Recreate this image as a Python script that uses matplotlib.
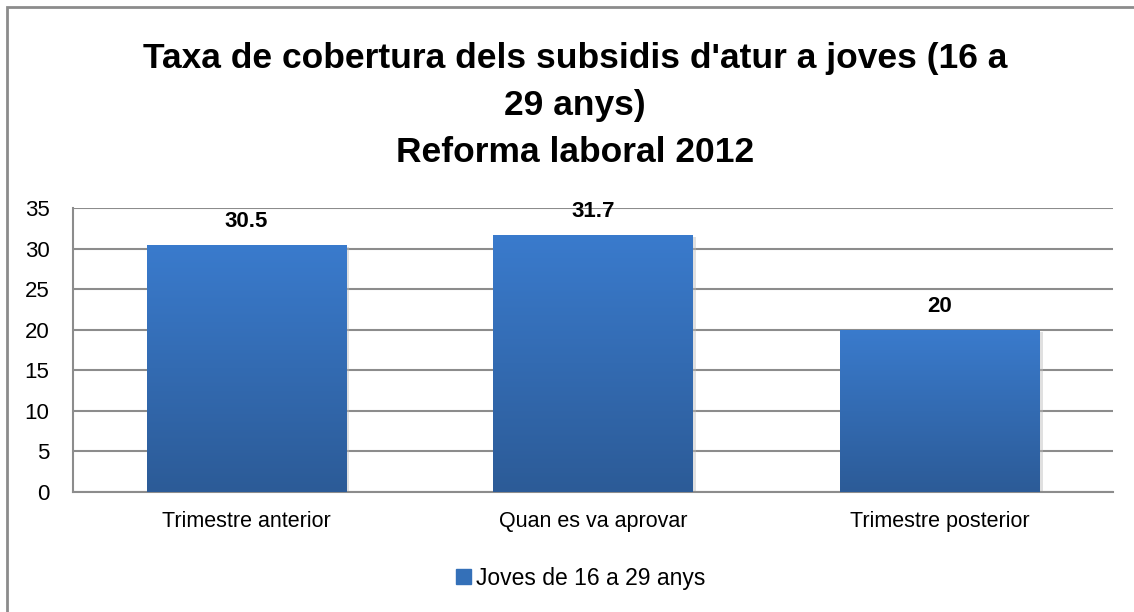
import numpy as np
import matplotlib.pyplot as plt
from matplotlib.colors import LinearSegmentedColormap
from matplotlib.patches import Rectangle

plt.rcParams['font.family'] = ['Liberation Sans Narrow', 'Liberation Sans', 'DejaVu Sans']

# Dades: taxa de cobertura (%)
categories = ['Trimestre anterior', 'Quan es va aprovar', 'Trimestre posterior']
values = [30.5, 31.7, 20]
series_name = 'Joves de 16 a 29 anys'
title = "Taxa de cobertura dels subsidis d'atur a joves (16 a\n29 anys)\nReforma laboral 2012"

fig = plt.figure(figsize=(11.34, 6.12), dpi=100)
ax = fig.add_axes([0.0644, 0.196, 0.917, 0.464])

x = np.arange(len(categories))
bars = ax.bar(x, values, width=0.575, color='#3470B8', zorder=3)

# degradat vertical a cada barra
grad = LinearSegmentedColormap.from_list('blaus', ['#2C5B97', '#3A7BCD'])
g = np.linspace(0, 1, 256).reshape(-1, 1)
for b, v in zip(bars, values):
    x0, w, h = b.get_x(), b.get_width(), b.get_height()
    # ombra suau
    ax.add_patch(Rectangle((x0 + 0.01, -0.25), w, h, color='#BBBBBB', alpha=0.45,
                           zorder=2, lw=0))
    im = ax.imshow(g, cmap=grad, origin='lower', aspect='auto',
                   extent=(x0, x0 + w, 0, h), zorder=4)
    im.set_clip_path(b)
    ax.text(x0 + w / 2, h + 1.6, f'{v:g}', ha='center', va='bottom',
            fontsize=16, fontweight='bold')

ax.set_xlim(-0.5, 2.5)
ax.set_ylim(0, 35)
ax.set_yticks(range(0, 36, 5))
ax.set_xticks(x)
ax.set_xticklabels(categories, fontsize=15.5)
ax.tick_params(axis='both', length=0)
ax.tick_params(axis='y', labelsize=16, pad=17)
ax.tick_params(axis='x', pad=14)
ax.yaxis.grid(True, color='#8C8C8C', lw=1.5, zorder=0)
for s in ['top', 'right']:
    ax.spines[s].set_visible(False)
for s in ['left', 'bottom']:
    ax.spines[s].set_color('#8C8C8C')
    ax.spines[s].set_linewidth(1.5)

fig.text(0.507, 0.932, title, ha='center', va='top', fontsize=25.5,
         fontweight='bold', linespacing=1.55)

# llegenda
handle = Rectangle((0, 0), 1, 1, color='#3470B8')
fig.legend([handle], [series_name], loc='center', bbox_to_anchor=(0.512, 0.055),
           frameon=False, fontsize=16.5, handlelength=0.65, handleheight=0.65,
           handletextpad=0.2)

# marc exterior
fig.add_artist(Rectangle((0.0062, -0.1), 1.2, 1.0886, transform=fig.transFigure,
                         fill=False, edgecolor='#8C8C8C', lw=2))

fig.savefig('out.png', dpi=100)
